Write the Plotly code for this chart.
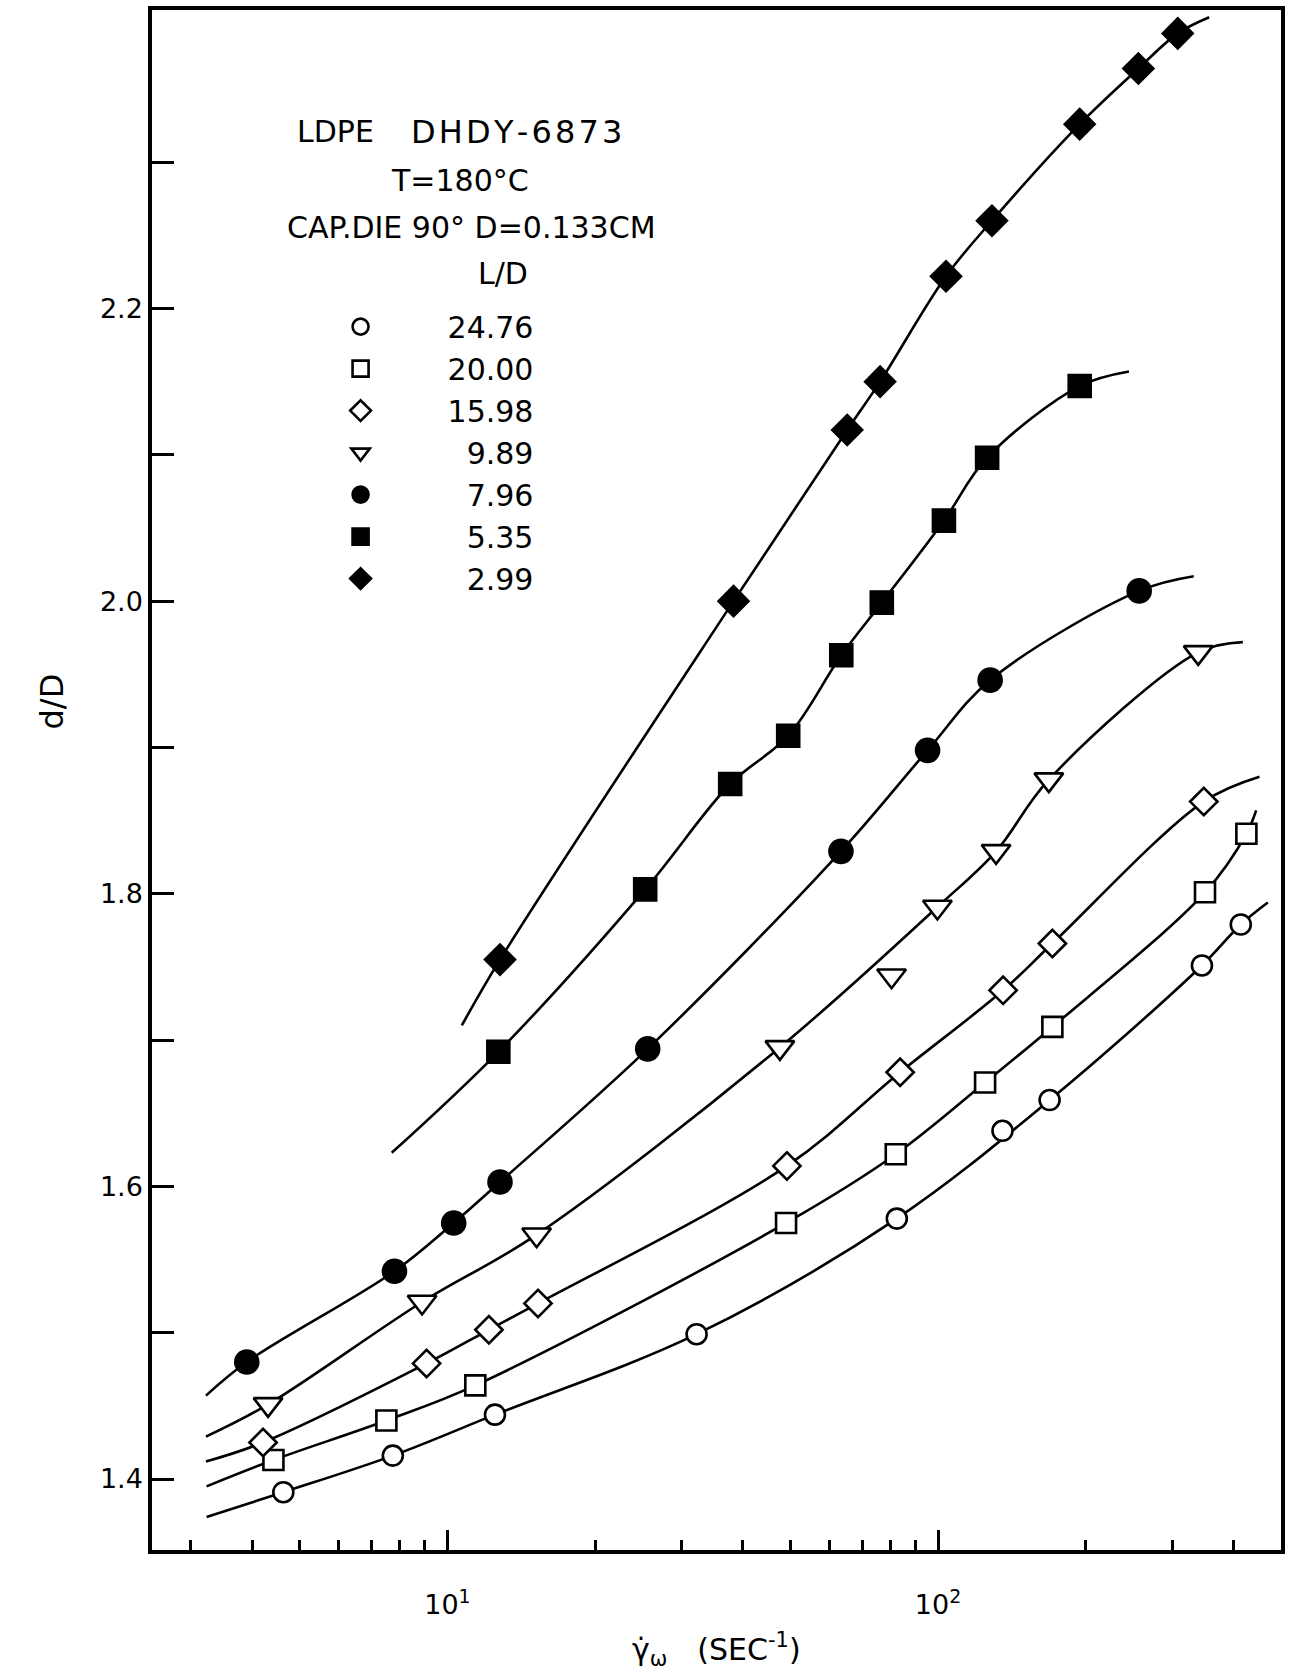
import plotly.graph_objects as go

# ---------------- data ----------------
LD_LABELS = ["24.76", "20.00", "15.98", "9.89", "7.96", "5.35", "2.99"]

circ_x = [4.63, 7.74, 12.5, 32.2, 82.4, 135.3, 168.8, 345, 414]
circ_y = [1.391, 1.416, 1.444, 1.499, 1.578, 1.638, 1.659, 1.751, 1.779]

sq_x = [4.42, 7.51, 11.4, 49.0, 82.0, 124.7, 171, 350, 425]
sq_y = [1.413, 1.440, 1.464, 1.575, 1.622, 1.671, 1.709, 1.801, 1.841]

dia_x = [4.21, 9.07, 12.15, 15.3, 49.2, 83.7, 135.7, 171, 348]
dia_y = [1.425, 1.479, 1.502, 1.520, 1.614, 1.678, 1.734, 1.766, 1.863]

tri_x = [4.31, 8.88, 15.2, 47.6, 80.4, 99.7, 131.3, 168.2, 339]
tri_y = [1.451, 1.521, 1.567, 1.695, 1.744, 1.791, 1.829, 1.878, 1.965]

fcirc_x = [3.9, 7.8, 10.3, 12.8, 25.6, 63.4, 95.2, 127.7, 257]
fcirc_y = [1.480, 1.542, 1.575, 1.603, 1.694, 1.829, 1.898, 1.946, 2.007]

fsq_x = [12.7, 25.3, 37.7, 49.5, 63.5, 76.8, 102.8, 125.9, 194.4]
fsq_y = [1.692, 1.803, 1.875, 1.908, 1.963, 1.999, 2.055, 2.098, 2.147]

fdia_x = [12.8, 38.3, 65.3, 76.2, 103.8, 128.8, 194.4, 256, 308]
fdia_y = [1.755, 2.000, 2.117, 2.150, 2.222, 2.260, 2.326, 2.364, 2.388]

# hand-drawn curve ends (start x, start y, end x, end y)
curve_start_x = [3.23, 3.23, 3.22, 3.22, 3.22, 7.7, 10.7]
curve_start_y = [1.374, 1.395, 1.412, 1.429, 1.457, 1.623, 1.710]
curve_end_x = [470, 445, 452, 418, 332, 245, 357]
curve_end_y = [1.794, 1.857, 1.880, 1.972, 2.017, 2.157, 2.399]
# points that lie off the drawn curve (index into each series)
off_curve = [[5], [], [], [4], [], [], []]

y_major = [1.4, 1.6, 1.8, 2.0, 2.2]
y_major_text = ["1.4", "1.6", "1.8", "2.0", "2.2"]
y_minor = [1.5, 1.7, 1.9, 2.1, 2.3]
x_major = [10, 100]
x_major_text = ["10<sup>1</sup>", "10<sup>2</sup>"]
x_minor = [3, 4, 5, 6, 7, 8, 9, 20, 30, 40, 50, 60, 70, 80, 90, 200, 300, 400]

# ---------------- styling ----------------
FONT = "DejaVu Sans"
series_x = [circ_x, sq_x, dia_x, tri_x, fcirc_x, fsq_x, fdia_x]
series_y = [circ_y, sq_y, dia_y, tri_y, fcirc_y, fsq_y, fdia_y]
symbols = ["circle", "square", "diamond", "triangle-down", "circle", "square", "diamond"]
fills = ["white", "white", "white", "white", "black", "black", "black"]
sizes = [20, 20, 21, 25, 23, 22, 23]
pad = ["", "", "", "\u2007", "\u2007", "\u2007", "\u2007"]

fig = go.Figure()

# curves
for i in range(7):
    xs = [curve_start_x[i]] + [v for j, v in enumerate(series_x[i]) if j not in off_curve[i]] + [curve_end_x[i]]
    ys = [curve_start_y[i]] + [v for j, v in enumerate(series_y[i]) if j not in off_curve[i]] + [curve_end_y[i]]
    fig.add_trace(go.Scatter(
        x=xs, y=ys, mode="lines",
        line=dict(color="black", width=2.6, shape="spline", smoothing=1.0),
        showlegend=False, hoverinfo="skip"))

# markers
for i in range(7):
    fig.add_trace(go.Scatter(
        x=series_x[i], y=series_y[i], mode="markers",
        name=pad[i] + LD_LABELS[i],
        marker=dict(symbol=symbols[i], size=sizes[i], color=fills[i],
                    line=dict(color="black", width=2.6))))

fig.update_layout(
    width=1291, height=1675,
    margin=dict(l=152, r=6, t=8, b=125),
    paper_bgcolor="white", plot_bgcolor="white",
    font=dict(family=FONT, color="black"),
    legend=dict(
        x=(274 - 152) / 1133, y=1 - (299 - 8) / 1542,
        xanchor="left", yanchor="top",
        itemwidth=164, bgcolor="rgba(0,0,0,0)",
        font=dict(family=FONT, size=30, color="black"),
        traceorder="normal"),
    xaxis=dict(
        type="log", range=[0.39794, 2.69897],
        tickvals=x_major, ticktext=x_major_text,
        ticks="inside", ticklen=20, tickwidth=3, tickcolor="black",
        minor=dict(tickvals=x_minor, ticks="inside", ticklen=10,
                   tickwidth=2.5, tickcolor="black"),
        showline=True, linewidth=3.5, linecolor="black", mirror=True,
        showgrid=False, zeroline=False,
        ticklabelstandoff=28,
        tickfont=dict(family=FONT, size=27, color="black")),
    yaxis=dict(
        range=[1.3515, 2.404],
        tickvals=y_major, ticktext=y_major_text,
        ticks="inside", ticklen=22, tickwidth=3, tickcolor="black",
        minor=dict(tickvals=y_minor, ticks="inside", ticklen=22,
                   tickwidth=3, tickcolor="black"),
        showline=True, linewidth=3.5, linecolor="black", mirror=True,
        showgrid=False, zeroline=False,
        tickfont=dict(family=FONT, size=27, color="black")),
)

px0, pw, py0, ph = 152, 1133, 8, 1542
def pxx(x):
    return (x - px0) / pw
def pyy(y):
    return 1 - (y - py0) / ph

TS = "\u200a"
annotations = [
    dict(text="LDPE", x=pxx(336), y=pyy(130), size=30),
    dict(text=TS.join("DHDY-6873"), x=pxx(518), y=pyy(130), size=32),
    dict(text="T=180\u00b0C", x=pxx(461), y=pyy(179), size=30),
    dict(text="CAP.DIE 90\u00b0 D=0.133CM", x=pxx(473), y=pyy(226), size=30),
    dict(text="L/D", x=pxx(504), y=pyy(272), size=30),
]
for a in annotations:
    fig.add_annotation(text=a["text"], x=a["x"], y=a["y"], xref="paper", yref="paper",
                       showarrow=False, xanchor="center", yanchor="middle",
                       font=dict(family=FONT, size=a["size"], color="black"))

fig.add_annotation(text="d/D", x=pxx(52), y=pyy(700), xref="paper", yref="paper",
                   showarrow=False, textangle=-90, xanchor="center", yanchor="middle",
                   font=dict(family=FONT, size=32, color="black"))
fig.add_annotation(text="\u03b3\u0307<sub>\u03c9</sub>\u2003(SEC<sup>-1</sup>)",
                   x=pxx(718), y=pyy(1650), xref="paper", yref="paper",
                   showarrow=False, xanchor="center", yanchor="middle",
                   font=dict(family=FONT, size=30, color="black"))

fig.write_html("out.html")
